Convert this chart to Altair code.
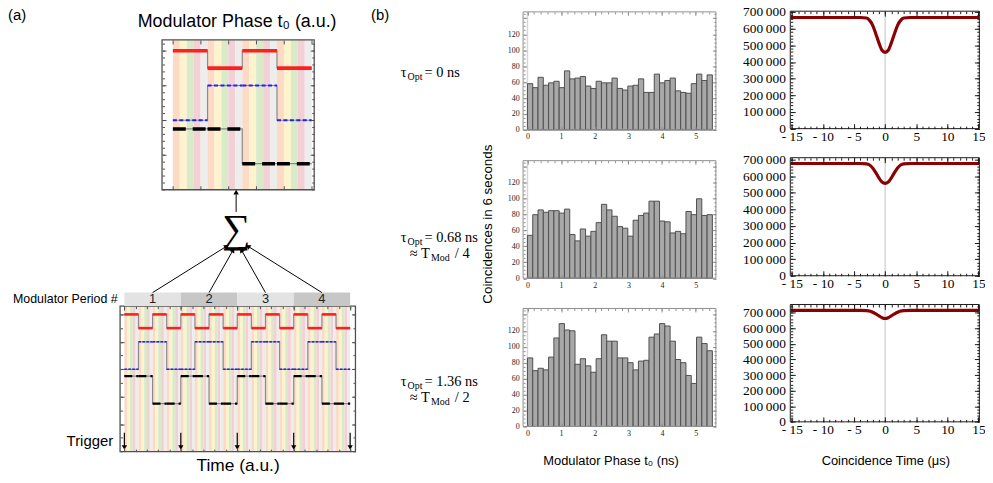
import altair as alt
import pandas as pd

# ---------------- values ----------------
# (b) left column: coincidences in 6 s per modulator-phase bin (35 bins over one period)
phase_bin_width = 0.157  # ns
counts_tau0 = [58, 53, 66, 56, 59, 61, 53, 74, 64, 65, 67, 55, 52, 61, 59, 59, 65, 52, 50, 55,
               56, 64, 47, 47, 70, 59, 62, 65, 49, 47, 46, 58, 70, 62, 69]
counts_tau068 = [54, 80, 86, 83, 85, 85, 82, 87, 55, 47, 62, 53, 59, 70, 93, 86, 78, 65, 63, 53,
                 73, 79, 82, 97, 97, 72, 71, 57, 59, 56, 84, 80, 100, 79, 80]
counts_tau136 = [86, 70, 73, 71, 87, 111, 129, 121, 120, 78, 85, 76, 68, 85, 115, 107, 107, 86, 86, 80,
                 71, 82, 83, 112, 116, 129, 126, 107, 84, 80, 64, 54, 112, 104, 95]
hist_ticks_x = [0, 1, 2, 3, 4, 5]
hist_ticks_y = [0, 20, 40, 60, 80, 100, 120, 140]

# (b) right column: coincidences vs coincidence time (us)
coinc_time = [-15.2, -4.0, -3.0, -2.5, -2.0, -1.5, -1.0, -0.5, 0.0, 0.5, 1.0, 1.5, 2.0, 2.5, 3.0, 4.0, 15.1]
coinc_tau0 = [667000, 667000, 664000, 650000, 620000, 570000, 515000, 470000, 458000, 470000,
              515000, 570000, 620000, 650000, 664000, 667000, 667000]
coinc_tau068 = [677000, 677000, 675000, 668000, 650000, 622000, 590000, 565000, 557000, 565000,
                590000, 622000, 650000, 668000, 675000, 677000, 677000]
coinc_tau136 = [715000, 715000, 714000, 711000, 703000, 692000, 680000, 668000, 663000, 668000,
                680000, 692000, 703000, 711000, 714000, 715000, 715000]
coinc_ticks_x = [-15, -10, -5, 0, 5, 10, 15]

# (a) top: one modulator period, four quarter-period segments (a.u.)
phase_edges = [0.0, 1.25, 2.5, 3.75, 5.0]
red_phase = [4.0, 3.5, 4.0, 3.5]
blue_phase = [2.0, 3.0, 3.0, 2.0]
black_phase = [1.75, 1.75, 0.75, 0.75]

# (a) bottom: four modulator periods in time (a.u.)
time_edges = [0.0, 1.25, 2.5, 3.75, 5.0, 6.25, 7.5, 8.75, 10.0, 11.25, 12.5, 13.75, 15.0, 16.25, 17.5, 18.75, 20.0]
red_time = [5.0, 4.5, 5.0, 4.5, 5.0, 4.5, 5.0, 4.5, 5.0, 4.5, 5.0, 4.5, 5.0, 4.5, 5.0, 4.5]
blue_time = [3.0, 4.0, 4.0, 3.0, 3.0, 4.0, 4.0, 3.0, 3.0, 4.0, 4.0, 3.0, 3.0, 4.0, 4.0, 3.0]
black_time = [2.75, 2.75, 1.75, 1.75, 2.75, 2.75, 1.75, 1.75, 2.75, 2.75, 1.75, 1.75, 2.75, 2.75, 1.75, 1.75]
period_labels = ["1", "2", "3", "4"]
period_start = [0, 5, 10, 15]
period_end = [5, 10, 15, 20]
period_fill = ["#e3e3e3", "#c7c7c7", "#e3e3e3", "#c7c7c7"]
trigger_times = [0, 5, 10, 15, 20]
stripe_width = 0.25
stripe_palette = ["#fcd9c3", "#fdf2c9", "#d6e9c4", "#f2cdd3", "#ececec"]

# connectors (period cells -> sum -> folded panel)
conn_from = [2.5, 7.5, 12.5, 17.5]
conn_to_x = [9.0, 9.6, 10.4, 11.0]
conn_to_y = [0.45, 0.41, 0.41, 0.45]
conn_angle = [58, 30, 330, 302]

# ---------------- layout ----------------
W, H, M = 985, 469, 8
SANS = "Liberation Sans"
SERIF = "Liberation Serif"

A_TOP = dict(L=163.3, R=316.7, T=38.3, B=189.3, xd=[-0.39, 5.09], yd=[0, 4.31])
A_BOT = dict(L=121.0, R=358.3, T=306.7, B=453.3, xd=[-0.38, 20.47], yd=[0, 5.3])
HIST = dict(L=527.3, R=721.7, xd=[-0.13, 5.6], yd=[0, 148])
HIST_Y = [(10, 129), (160, 278.5), (309, 428)]
COIN = dict(L=796.7, R=987.3, xd=[-15.25, 15.15])
COIN_Y = [(9.3, 127.7, 705000), (157, 276, 712000), (305, 423.3, 753000)]


def sx(dom, L, R):
    return alt.Scale(domain=dom, range=[L - M, R - M], nice=False, zero=False)


def sy(dom, T, B):
    return alt.Scale(domain=dom, range=[B - M, T - M], nice=False, zero=False)


def tick_axis(orient, edge, size, values, color, **kw):
    e = edge - M
    if orient in ("left", "top"):
        off = -(e + size)
    elif orient == "right":
        off = e - size - W
    else:
        off = e - size - H
    base = dict(orient=orient, offset=off, tickSize=size, values=values, tickColor=color,
                tickWidth=1, domain=False, grid=False, title=None, labels=False,
                labelFlush=False, labelOverlap=False, zindex=1)
    base.update(kw)
    return alt.Axis(**base)


def frame(L, R, T, B, xd, yd, color, xmaj, xmin, ymaj, ymin, majs, mins, xlab=None, ylab=None, sw=1.0):
    xs, ys = sx(xd, L, R), sy(yd, T, B)
    one = pd.DataFrame({"x0": [xd[0]], "x1": [xd[1]], "y0": [yd[0]], "y1": [yd[1]]})
    base = alt.Chart(one)
    out = [base.mark_rect(fillOpacity=0, stroke=color, strokeWidth=sw).encode(
        x=alt.X("x0:Q", scale=xs, axis=None), x2="x1:Q",
        y=alt.Y("y0:Q", scale=ys, axis=None), y2="y1:Q")]
    pairs = [
        (("bottom", B, majs, xmaj, xlab or {}), ("left", L, majs, ymaj, ylab or {})),
        (("top", T, majs, xmaj, {}), ("right", R, majs, ymaj, {})),
        (("bottom", B, mins, xmin, {}), ("left", L, mins, ymin, {})),
        (("top", T, mins, xmin, {}), ("right", R, mins, ymin, {})),
    ]
    for xa, ya in pairs:
        xax = tick_axis(xa[0], xa[1], xa[2], xa[3], color, **xa[4]) if xa[3] else None
        yax = tick_axis(ya[0], ya[1], ya[2], ya[3], color, **ya[4]) if ya[3] else None
        out.append(base.mark_point(opacity=0).encode(
            x=alt.X("x0:Q", scale=xs, axis=xax), y=alt.Y("y0:Q", scale=ys, axis=yax)))
    return out


def step_panel(box, edges, levels, styles, n_stripes):
    xs = sx(box["xd"], box["L"], box["R"])
    ys = sy(box["yd"], box["T"], box["B"])
    out = []
    sdf = pd.DataFrame({
        "x0": [i * stripe_width for i in range(n_stripes)],
        "x1": [(i + 1) * stripe_width for i in range(n_stripes)],
        "c": [stripe_palette[i % 5] for i in range(n_stripes)],
        "lo": box["yd"][0], "hi": box["yd"][1]})
    out.append(alt.Chart(sdf).mark_rect(opacity=0.95).encode(
        x=alt.X("x0:Q", scale=xs, axis=None), x2="x1:Q",
        y=alt.Y("lo:Q", scale=ys, axis=None), y2="hi:Q",
        color=alt.Color("c:N", scale=None)))
    pts = []
    for name, lv in levels.items():
        for i, v in enumerate(lv):
            pts.append({"s": name, "x": edges[i], "y": v})
        pts.append({"s": name, "x": edges[len(lv)], "y": lv[-1]})
    out.append(alt.Chart(pd.DataFrame(pts)).mark_line(
        interpolate="step-after", color="#8a8a8a", strokeWidth=1.2).encode(
        x=alt.X("x:Q", scale=xs, axis=None), y=alt.Y("y:Q", scale=ys, axis=None), detail="s:N"))
    for name, lv in levels.items():
        seg = pd.DataFrame({"x0": edges[:-1], "x1": edges[1:], "y": lv})
        out.append(alt.Chart(seg).mark_rule(**styles[name]).encode(
            x=alt.X("x0:Q", scale=xs, axis=None), x2="x1:Q",
            y=alt.Y("y:Q", scale=ys, axis=None)))
    return out, xs, ys


def txt(s, x, y, size, font=SANS, align="center", baseline="middle", angle=None, color="black"):
    kw = dict(font=font, fontSize=size, align=align, baseline=baseline, color=color)
    if angle is not None:
        kw["angle"] = angle
    return alt.Chart(pd.DataFrame({"t": [s]})).mark_text(**kw).encode(
        x=alt.value(x - M), y=alt.value(y - M), text="t:N")


layers = []

# ---------- panel (a) top ----------
top_styles = {
    "red": dict(color="#ff1f1f", strokeWidth=3.6),
    "blue": dict(color="#1f1fff", strokeWidth=2.0, strokeDash=[4, 2.5]),
    "black": dict(color="#000000", strokeWidth=3.6, strokeDash=[13, 7]),
}
lay, xs_t, ys_t = step_panel(A_TOP, phase_edges,
                             {"red": red_phase, "blue": blue_phase, "black": black_phase},
                             top_styles, 20)
layers += lay
layers += frame(A_TOP["L"], A_TOP["R"], A_TOP["T"], A_TOP["B"], A_TOP["xd"], A_TOP["yd"], "#505050",
                xmaj=[0, 1, 2, 3, 4, 5], xmin=[],
                ymaj=[1, 2, 3, 4], ymin=[round(0.2 * i, 1) for i in range(22)],
                majs=4, mins=2.5, sw=1.3)

# ---------- panel (a) bottom ----------
bot_styles = {
    "red": dict(color="#ff1f1f", strokeWidth=2.6),
    "blue": dict(color="#1f1fff", strokeWidth=1.5, strokeDash=[2.5, 1.5]),
    "black": dict(color="#000000", strokeWidth=2.2, strokeDash=[8, 4]),
}
lay, xs_b, ys_b = step_panel(A_BOT, time_edges,
                             {"red": red_time, "blue": blue_time, "black": black_time},
                             bot_styles, 80)
layers += lay
trig = pd.DataFrame({"x": trigger_times, "y0": [0.69] * 5, "y1": [0.18] * 5, "yh": [0.15] * 5})
layers.append(alt.Chart(trig).mark_rule(color="black", strokeWidth=1.2).encode(
    x=alt.X("x:Q", scale=xs_b, axis=None), y=alt.Y("y0:Q", scale=ys_b, axis=None), y2="y1:Q"))
layers.append(alt.Chart(trig).mark_point(shape="triangle-down", filled=True, color="black",
                                         size=28, opacity=1).encode(
    x=alt.X("x:Q", scale=xs_b, axis=None), y=alt.Y("yh:Q", scale=ys_b, axis=None)))
layers += frame(A_BOT["L"], A_BOT["R"], A_BOT["T"], A_BOT["B"], A_BOT["xd"], A_BOT["yd"], "#505050",
                xmaj=[0, 5, 10, 15, 20], xmin=list(range(0, 21)),
                ymaj=[1, 2, 3, 4, 5], ymin=[0.5 * i for i in range(11)],
                majs=4, mins=2.5, sw=1.3)

# period band
band = pd.DataFrame({"x0": period_start, "x1": period_end, "c": period_fill,
                     "lab": period_labels, "lo": [0] * 4, "hi": [1] * 4,
                     "mid": [(a + b) / 2 for a, b in zip(period_start, period_end)], "ym": [0.5] * 4})
ys_band = sy([0, 1], 293, 306.5)
layers.append(alt.Chart(band).mark_rect().encode(
    x=alt.X("x0:Q", scale=xs_b, axis=None), x2="x1:Q",
    y=alt.Y("lo:Q", scale=ys_band, axis=None), y2="hi:Q",
    color=alt.Color("c:N", scale=None)))
layers.append(alt.Chart(band).mark_text(font=SANS, fontSize=13, color="#222").encode(
    x=alt.X("mid:Q", scale=xs_b, axis=None), y=alt.Y("ym:Q", scale=ys_band, axis=None),
    text="lab:N"))

# connectors to the sum and up to the folded panel
ys_conn = sy([0, 1], 190, 293)
conn = pd.DataFrame({"x0": conn_from, "x1": conn_to_x, "y0": [0] * 4, "y1": conn_to_y, "a": conn_angle})
layers.append(alt.Chart(conn).mark_rule(color="black", strokeWidth=1).encode(
    x=alt.X("x0:Q", scale=xs_b, axis=None), x2="x1:Q",
    y=alt.Y("y0:Q", scale=ys_conn, axis=None), y2="y1:Q"))
layers.append(alt.Chart(conn).mark_point(shape="triangle", filled=True, color="black",
                                         size=30, opacity=1).encode(
    x=alt.X("x1:Q", scale=xs_b, axis=None), y=alt.Y("y1:Q", scale=ys_conn, axis=None),
    angle=alt.Angle("a:Q", scale=None)))
up = pd.DataFrame({"x": [9.9], "y0": [0.79], "y1": [0.96], "yh": [0.975]})
layers.append(alt.Chart(up).mark_rule(color="black", strokeWidth=1).encode(
    x=alt.X("x:Q", scale=xs_b, axis=None), y=alt.Y("y0:Q", scale=ys_conn, axis=None), y2="y1:Q"))
layers.append(alt.Chart(up).mark_point(shape="triangle", filled=True, color="black",
                                       size=30, opacity=1).encode(
    x=alt.X("x:Q", scale=xs_b, axis=None), y=alt.Y("yh:Q", scale=ys_conn, axis=None)))

# ---------- panel (b) histograms ----------
lab_x_h = dict(labels=True, labelFont=SERIF, labelFontSize=8, labelColor="#222222", labelPadding=3)
lab_y_h = dict(labels=True, labelFont=SERIF, labelFontSize=8, labelColor="#222222", labelPadding=4,
               labelExpr="datum.value > 130 ? '' : datum.label")
for counts, (T, B) in zip([counts_tau0, counts_tau068, counts_tau136], HIST_Y):
    xs = sx(HIST["xd"], HIST["L"], HIST["R"])
    ys = sy(HIST["yd"], T, B)
    zl = pd.DataFrame({"x": [0], "lo": [0], "hi": [HIST["yd"][1]]})
    layers.append(alt.Chart(zl).mark_rule(color="#d6d6d6", strokeWidth=1.5).encode(
        x=alt.X("x:Q", scale=xs, axis=None), y=alt.Y("lo:Q", scale=ys, axis=None), y2="hi:Q"))
    df = pd.DataFrame({"start": [round(i * phase_bin_width, 4) for i in range(len(counts))],
                       "end": [round((i + 1) * phase_bin_width, 4) for i in range(len(counts))],
                       "count": counts})
    layers.append(alt.Chart(df).mark_bar(fill="#a8a8a8", stroke="#4f4f4f", strokeWidth=1).encode(
        x=alt.X("start:Q", scale=xs, axis=None), x2="end:Q",
        y=alt.Y("count:Q", scale=ys, axis=None), y2=alt.datum(0)))
    layers += frame(HIST["L"], HIST["R"], T, B, HIST["xd"], HIST["yd"], "#8f8f8f",
                    xmaj=hist_ticks_x, xmin=[round(0.2 * i, 1) for i in range(28)],
                    ymaj=hist_ticks_y, ymin=list(range(0, 146, 5)),
                    majs=3.5, mins=2, xlab=lab_x_h, ylab=lab_y_h)

# ---------- panel (b) coincidence curves ----------
lab_x_c = dict(labels=True, labelFont=SERIF, labelFontSize=13.5, labelColor="black", labelPadding=1,
               labelExpr="datum.value < 0 ? '- ' + format(-datum.value, 'd') : format(datum.value, 'd')")
lab_y_c = dict(labels=True, labelFont=SERIF, labelFontSize=13.5, labelColor="black", labelPadding=5,
               labelExpr="replace(format(datum.value, ','), ',', '\u2009')")
for vals, (T, B, ymax) in zip([coinc_tau0, coinc_tau068, coinc_tau136], COIN_Y):
    xs = sx(COIN["xd"], COIN["L"], COIN["R"])
    ys = sy([0, ymax], T, B)
    zl = pd.DataFrame({"x": [0], "lo": [0], "hi": [ymax]})
    layers.append(alt.Chart(zl).mark_rule(color="#d0d0d0", strokeWidth=1.3).encode(
        x=alt.X("x:Q", scale=xs, axis=None), y=alt.Y("lo:Q", scale=ys, axis=None), y2="hi:Q"))
    df = pd.DataFrame({"t": coinc_time, "c": vals})
    layers.append(alt.Chart(df).mark_line(interpolate="monotone", color="#8b0000", strokeWidth=3.2).encode(
        x=alt.X("t:Q", scale=xs, axis=None), y=alt.Y("c:Q", scale=ys, axis=None)))
    layers += frame(COIN["L"], COIN["R"], T, B, COIN["xd"], [0, ymax], "#1a1a1a",
                    xmaj=coinc_ticks_x, xmin=list(range(-15, 16)),
                    ymaj=[v for v in range(0, 800001, 100000) if v <= ymax],
                    ymin=[v for v in range(0, 800001, 20000) if v <= ymax],
                    majs=5, mins=2.5, xlab=lab_x_c, ylab=lab_y_c)

# ---------- texts ----------
layers += [
    txt("(a)", 8, 13, 15, align="left"),
    txt("(b)", 374, 13, 15, align="left"),
    txt("Modulator Phase t\u2080 (a.u.)", 239, 20, 18),
    txt("Modulator Period #", 118.5, 299.5, 12.5, align="right"),
    txt("Trigger", 114, 442.5, 15, align="right"),
    txt("Time (a.u.)", 240, 468, 17.5),
    txt("\u2211", 238, 230, 40, font=SERIF),
    txt("Coincidences in 6 seconds", 492, 224, 13.5, angle=270),
    txt("Modulator Phase t\u2080 (ns)", 616, 463, 13),
    txt("Coincidence Time (\u03bcs)", 893, 463, 13),
]
tau_rows = [(72, "= 0 ns", None), (238, "= 0.68 ns", "4"), (383, "= 1.36 ns", "2")]
for yc, rest, frac in tau_rows:
    layers.append(txt("\u03c4", 404, yc, 14.5, font=SERIF, align="left"))
    layers.append(txt("Opt", 410.8, yc + 4, 10, font=SERIF, align="left"))
    layers.append(txt(rest, 428, yc, 14.5, font=SERIF, align="left"))
    if frac:
        y2 = yc + 16.5
        layers.append(txt("\u2248 T", 413, y2, 14.5, font=SERIF, align="left"))
        layers.append(txt("Mod", 434.5, y2 + 4, 10, font=SERIF, align="left"))
        layers.append(txt("/ " + frac, 458.5, y2, 14.5, font=SERIF, align="left"))

chart = alt.layer(*layers).resolve_scale(x="independent", y="independent").properties(
    width=W, height=H, padding=0, autosize=alt.AutoSizeParams(type="none")
).configure_view(stroke=None)

chart.save("out.html", embed_options={"renderer": "svg", "actions": False})
